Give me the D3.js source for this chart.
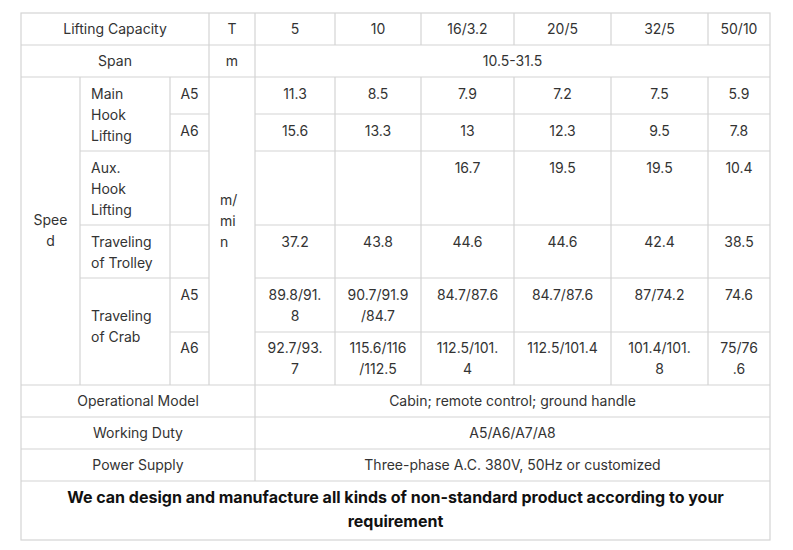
<!DOCTYPE html><html><head><meta charset="utf-8"><script src="https://d3js.org/d3.v7.min.js"></script>
<style>body{margin:0;background:#fff}text{font-family:Inter,"Noto Sans",sans-serif;fill:#333;font-size:14px}</style></head><body><svg id="c" width="793" height="550"></svg>
<script>
const capacities=["5","10","16/3.2","20/5","32/5","50/10"];
const mainA5=["11.3","8.5","7.9","7.2","7.5","5.9"];
const mainA6=["15.6","13.3","13","12.3","9.5","7.8"];
const auxHook=["","","16.7","19.5","19.5","10.4"];
const trolley=["37.2","43.8","44.6","44.6","42.4","38.5"];
const crabA5=[["89.8/91.","8"],["90.7/91.9","/84.7"],["84.7/87.6"],["84.7/87.6"],["87/74.2"],["74.6"]];
const crabA6=[["92.7/93.","7"],["115.6/116","/112.5"],["112.5/101.","4"],["112.5/101.4"],["101.4/101.","8"],["75/76",".6"]];
const spanText="10.5-31.5", opModel="Cabin; remote control; ground handle", duty="A5/A6/A7/A8", power="Three-phase A.C. 380V, 50Hz or customized";
const footer=["We can design and manufacture all kinds of non-standard product according to your","requirement"];

const X=[21,80,170,209,255,335,421,514,611,708,770];
const Y=[13,45,77,114,151,225,278,332,385,417,449,481,540];
const svg=d3.select("#c"), LH=21;
const g=svg.append("g");
function line(x1,y1,x2,y2){g.append("line").attr("x1",x1).attr("y1",y1).attr("x2",x2).attr("y2",y2).attr("stroke","#d4d4d4").attr("stroke-width",1.2);}
function txt(lines,x,y,anchor,opts={}){const t=svg.append("text").attr("x",x).attr("y",y).attr("text-anchor",anchor||"middle");
 lines.forEach((l,i)=>t.append("tspan").attr("x",x).attr("dy",i?LH:0).text(l)); if(opts.bold)t.style("font-weight","700").style("font-size","16px").style("fill","#111"); return t;}
g.append("rect").attr("x",X[0]).attr("y",Y[0]).attr("width",X[10]-X[0]).attr("height",Y[12]-Y[0]).attr("fill","none").attr("stroke","#d4d4d4").attr("stroke-width",1.2);
[1,2,8,9,10,11].forEach(i=>line(X[0],Y[i],X[10],Y[i]));
[3,7].forEach(i=>{line(X[2],Y[i],X[3],Y[i]);line(X[4],Y[i],X[10],Y[i]);});
[4,5,6].forEach(i=>{line(X[1],Y[i],X[3],Y[i]);line(X[4],Y[i],X[10],Y[i]);});
line(X[1],Y[2],X[1],Y[8]);line(X[2],Y[2],X[2],Y[8]);
line(X[3],Y[0],X[3],Y[8]);line(X[4],Y[0],X[4],Y[11]);
[5,6,7,8,9].forEach(i=>{line(X[i],Y[0],X[i],Y[1]);line(X[i],Y[2],X[i],Y[8]);});
const cx=i=>(X[i]+X[i+1])/2, mid=(a,b)=>(a+b)/2+5;
txt(["Lifting Capacity"],(X[0]+X[3])/2,mid(Y[0],Y[1]));txt(["T"],cx(3),mid(Y[0],Y[1]));
capacities.forEach((c,i)=>txt([c],cx(4+i),mid(Y[0],Y[1])));
txt(["Span"],(X[0]+X[3])/2,mid(Y[1],Y[2]));txt(["m"],cx(3),mid(Y[1],Y[2]));txt([spanText],(X[4]+X[10])/2,mid(Y[1],Y[2]));
txt(["Spee","d"],cx(0),225);txt(["m/","mi","n"],220,205,"start");
txt(["Main","Hook","Lifting"],91,99,"start");txt(["Aux.","Hook","Lifting"],91,173,"start");
txt(["Traveling","of Trolley"],91,247,"start");txt(["Traveling","of Crab"],91,321,"start");
txt(["A5"],cx(2),99);txt(["A6"],cx(2),136);txt(["A5"],cx(2),300);txt(["A6"],cx(2),353);
[[mainA5,99],[mainA6,136],[auxHook,173],[trolley,247]].forEach(([arr,y])=>arr.forEach((v,i)=>txt([v],cx(4+i),y)));
crabA5.forEach((v,i)=>txt(v,cx(4+i),300));crabA6.forEach((v,i)=>txt(v,cx(4+i),353));
[["Operational Model",opModel],["Working Duty",duty],["Power Supply",power]].forEach((r,k)=>{const y=mid(Y[8+k],Y[9+k]);txt([r[0]],(X[0]+X[4])/2,y);txt([r[1]],(X[4]+X[10])/2,y);});
const ft=txt(footer,(X[0]+X[10])/2,503,"middle",{bold:true});ft.selectAll("tspan").filter((d,i)=>i==1).attr("dy",24);
</script></body></html>
